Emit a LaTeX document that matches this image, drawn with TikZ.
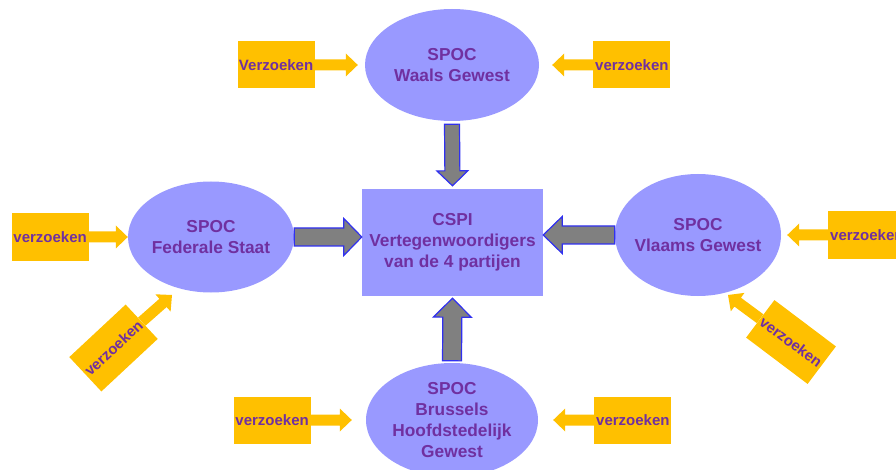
\documentclass[tikz,border=0pt]{standalone}
\usepackage{fontspec}
\setmainfont{Liberation Sans}
\usepackage{xcolor}
\usetikzlibrary{calc, positioning, shapes.geometric}

\definecolor{spocblue}{HTML}{9999FF}
\definecolor{reqgold}{HTML}{FFC000}
\definecolor{textpurple}{HTML}{7030A0}
\definecolor{rimblue}{HTML}{3030F0}
\definecolor{arrowgray}{HTML}{808080}

% block arrow: style, from, to, shaft half width, head half width, head length
\newcommand{\blockarrow}[6]{%
  \coordinate (ba-a) at (#2);
  \coordinate (ba-b) at (#3);
  \coordinate (ba-q) at ($(ba-b)!#6!(ba-a)$);
  \draw[#1] ($(ba-a)!#4!90:(ba-b)$) -- ($(ba-q)!#4!-90:(ba-a)$) -- ($(ba-q)!#5!-90:(ba-a)$)
    -- (ba-b) -- ($(ba-q)!#5!90:(ba-a)$) -- ($(ba-q)!#4!90:(ba-a)$) -- ($(ba-a)!#4!-90:(ba-b)$) -- cycle;}

\begin{document}
\begin{tikzpicture}[x=1pt, y=-1pt,
  spoc/.style={ellipse, fill=spocblue, inner xsep=-20pt, inner ysep=-10pt, align=center, text=textpurple, font=\fontsize{17.3}{21}\selectfont\bfseries},
  panel/.style={rectangle, fill=spocblue, inner sep=0pt, align=center, minimum width=181pt, minimum height=107pt, text=textpurple, font=\fontsize{17.3}{21}\selectfont\bfseries},
  req/.style={rectangle, fill=reqgold, inner sep=0pt, minimum width=77pt, minimum height=47pt, text=textpurple, font=\fontsize{15}{18}\selectfont\bfseries},
  reqarr/.style={draw=none, fill=reqgold},
  fat/.style={fill=arrowgray, draw=rimblue, line width=1.2pt, line join=miter}
]
\clip (0,0) rectangle (896,470);

\node[spoc, minimum width=174pt, minimum height=112pt] (waals) at (452,65) {SPOC\\Waals Gewest};
\node[spoc, minimum width=166pt, minimum height=111pt] (federale) at (211,237) {SPOC\\Federale Staat};
\node[spoc, minimum width=166pt, minimum height=122pt] (vlaams) at (698,235) {SPOC\\Vlaams Gewest};
\node[spoc, minimum width=172pt, minimum height=114pt] (brussels) at (452,420) {SPOC\\Brussels\\Hoofdstedelijk\\Gewest};
\node[panel] (cspi) at (452.5,242.5) {CSPI\\Vertegenwoordigers\\van de 4 partijen};

\node[req, left=50pt of waals] (wl) {Verzoeken};
\node[req, right=54pt of waals] (wr) {verzoeken};
\node[req, left=39pt of federale] (fl) {verzoeken};
\node[req, right=47pt of vlaams] (vr) {verzoeken};
\node[req, left=55pt of brussels] (bl) {verzoeken};
\node[req, right=56pt of brussels] (br) {verzoeken};
\node[req, rotate=43] (fd) at (113.5,348) {verzoeken};
\node[req, rotate=-37] (vd) at (791,342) {verzoeken};

\coordinate[left=7pt of waals.west] (wl-tip);
\coordinate[right=13pt of waals.east] (wr-tip);
\coordinate[right=6pt of vlaams.east] (vr-tip);
\coordinate[left=14pt of brussels.west] (bl-tip);
\coordinate[right=15pt of brussels.east] (br-tip);
\coordinate (fd-tip) at (172,295);
\coordinate (vd-tip) at (728,295);

\blockarrow{reqarr}{wl.east}{wl-tip}{5.5pt}{11.5pt}{12pt}
\blockarrow{reqarr}{wr.west}{wr-tip}{5.5pt}{11.5pt}{12pt}
\blockarrow{reqarr}{fl.east}{federale.west}{5.5pt}{11.5pt}{12pt}
\blockarrow{reqarr}{vr.west}{vr-tip}{5.5pt}{11.5pt}{12pt}
\blockarrow{reqarr}{bl.east}{bl-tip}{5.5pt}{11.5pt}{12pt}
\blockarrow{reqarr}{br.west}{br-tip}{5.5pt}{11.5pt}{12pt}
\blockarrow{reqarr}{fd.east}{fd-tip}{5.5pt}{11.5pt}{12pt}
\blockarrow{reqarr}{vd.west}{vd-tip}{5.5pt}{11.5pt}{12pt}

\blockarrow{fat}{$(waals.south)+(0,3)$}{$(cspi.north)+(0,-3)$}{7.5pt}{15.5pt}{15pt}
\blockarrow{fat}{federale.east}{federale.east -| cspi.west}{9pt}{18.5pt}{18pt}
\blockarrow{fat}{vlaams.west}{vlaams.west -| cspi.east}{9pt}{18.5pt}{19pt}
\blockarrow{fat}{$(brussels.north)+(0,-2)$}{$(cspi.south)+(0,2)$}{9.5pt}{19pt}{19pt}
\end{tikzpicture}
\end{document}
